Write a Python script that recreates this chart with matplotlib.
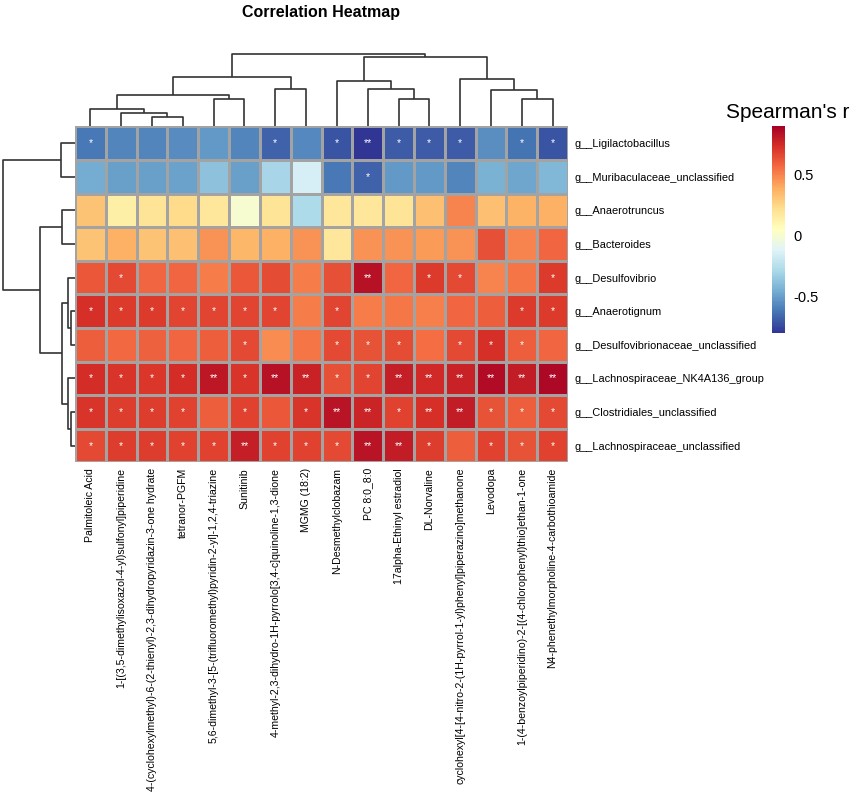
import numpy as np
import matplotlib
matplotlib.use("Agg")
import matplotlib.pyplot as plt

plt.rcParams['font.family'] = ['Liberation Sans', 'DejaVu Sans']

# metabolites (columns) in dendrogram order
metabolites = [
    "Palmitoleic Acid",
    "1-[(3,5-dimethylisoxazol-4-yl)sulfonyl]piperidine",
    "4-(cyclohexylmethyl)-6-(2-thienyl)-2,3-dihydropyridazin-3-one hydrate",
    "tetranor-PGFM",
    "5,6-dimethyl-3-[5-(trifluoromethyl)pyridin-2-yl]-1,2,4-triazine",
    "Sunitinib",
    "4-methyl-2,3-dihydro-1H-pyrrolo[3,4-c]quinoline-1,3-dione",
    "MGMG (18:2)",
    "N-Desmethylclobazam",
    "PC 8:0_8:0",
    "17alpha-Ethinyl estradiol",
    "DL-Norvaline",
    "cyclohexyl[4-[4-nitro-2-(1H-pyrrol-1-yl)phenyl]piperazino]methanone",
    "Levodopa",
    "1-(4-benzoylpiperidino)-2-[(4-chlorophenyl)thio]ethan-1-one",
    "N4-phenethylmorpholine-4-carbothioamide",
]

# genera (rows) in dendrogram order
genera = [
    "g__Ligilactobacillus",
    "g__Muribaculaceae_unclassified",
    "g__Anaerotruncus",
    "g__Bacteroides",
    "g__Desulfovibrio",
    "g__Anaerotignum",
    "g__Desulfovibrionaceae_unclassified",
    "g__Lachnospiraceae_NK4A136_group",
    "g__Clostridiales_unclassified",
    "g__Lachnospiraceae_unclassified",
]

# Spearman's r, one list per genus
r_ligilactobacillus = [-0.62, -0.58, -0.58, -0.56, -0.52, -0.58, -0.68, -0.57, -0.72, -0.80, -0.70, -0.70, -0.70, -0.55, -0.63, -0.72]
r_muribaculaceae = [-0.46, -0.50, -0.50, -0.49, -0.38, -0.50, -0.30, -0.15, -0.62, -0.68, -0.52, -0.52, -0.58, -0.44, -0.48, -0.42]
r_anaerotruncus = [0.32, 0.14, 0.20, 0.23, 0.18, 0.00, 0.20, -0.28, 0.18, 0.18, 0.20, 0.33, 0.50, 0.33, 0.37, 0.38]
r_bacteroides = [0.32, 0.38, 0.32, 0.33, 0.46, 0.36, 0.38, 0.46, 0.18, 0.46, 0.46, 0.44, 0.46, 0.64, 0.50, 0.58]
r_desulfovibrio = [0.62, 0.66, 0.58, 0.58, 0.52, 0.62, 0.65, 0.52, 0.64, 0.84, 0.58, 0.70, 0.66, 0.50, 0.54, 0.70]
r_anaerotignum = [0.73, 0.70, 0.70, 0.67, 0.67, 0.67, 0.67, 0.52, 0.67, 0.52, 0.53, 0.51, 0.58, 0.60, 0.70, 0.70]
r_desulfovibrionaceae = [0.60, 0.57, 0.59, 0.58, 0.60, 0.66, 0.48, 0.54, 0.66, 0.63, 0.65, 0.56, 0.66, 0.73, 0.60, 0.58]
r_lachno_nk4a136 = [0.74, 0.72, 0.71, 0.74, 0.82, 0.72, 0.84, 0.78, 0.64, 0.67, 0.79, 0.75, 0.78, 0.86, 0.80, 0.87]
r_clostridiales = [0.72, 0.69, 0.69, 0.68, 0.60, 0.68, 0.62, 0.72, 0.83, 0.77, 0.68, 0.73, 0.80, 0.63, 0.60, 0.66]
r_lachno_uncl = [0.66, 0.69, 0.69, 0.68, 0.68, 0.79, 0.68, 0.68, 0.66, 0.83, 0.80, 0.69, 0.60, 0.68, 0.63, 0.68]

# significance marks
sig_ligilactobacillus = ["*", "", "", "", "", "", "*", "", "*", "**", "*", "*", "*", "", "*", "*"]
sig_muribaculaceae = ["", "", "", "", "", "", "", "", "", "*", "", "", "", "", "", ""]
sig_anaerotruncus = [""] * 16
sig_bacteroides = [""] * 16
sig_desulfovibrio = ["", "*", "", "", "", "", "", "", "", "**", "", "*", "*", "", "", "*"]
sig_anaerotignum = ["*", "*", "*", "*", "*", "*", "*", "", "*", "", "", "", "", "", "*", "*"]
sig_desulfovibrionaceae = ["", "", "", "", "", "*", "", "", "*", "*", "*", "", "*", "*", "*", ""]
sig_lachno_nk4a136 = ["*", "*", "*", "*", "**", "*", "**", "**", "*", "*", "**", "**", "**", "**", "**", "**"]
sig_clostridiales = ["*", "*", "*", "*", "", "*", "", "*", "**", "**", "*", "**", "**", "*", "*", "*"]
sig_lachno_uncl = ["*", "*", "*", "*", "*", "**", "*", "*", "*", "**", "**", "*", "", "*", "*", "*"]

# dendrogram merges: (child a, child b, height); ids >= n are earlier merges
col_merges = [(2, 3, 9.7), (1, 16, 13.7), (0, 17, 17.3), (4, 5, 27.0), (18, 19, 31.7),
              (6, 7, 36.7), (20, 21, 49.0), (10, 11, 27.7), (9, 23, 37.3), (8, 24, 45.0),
              (14, 15, 27.7), (13, 26, 36.0), (12, 27, 46.7), (25, 28, 68.7), (22, 29, 72.0)]
row_merges = [(0, 1, 14.0), (2, 3, 12.7), (5, 6, 4.0), (4, 12, 7.0), (8, 9, 4.0),
              (7, 14, 7.0), (13, 15, 13.3), (11, 16, 35.0), (10, 17, 72.0)]

vals = np.array([r_ligilactobacillus, r_muribaculaceae, r_anaerotruncus, r_bacteroides,
                 r_desulfovibrio, r_anaerotignum, r_desulfovibrionaceae, r_lachno_nk4a136,
                 r_clostridiales, r_lachno_uncl])
sigs = [sig_ligilactobacillus, sig_muribaculaceae, sig_anaerotruncus, sig_bacteroides,
        sig_desulfovibrio, sig_anaerotignum, sig_desulfovibrionaceae, sig_lachno_nk4a136,
        sig_clostridiales, sig_lachno_uncl]

W, H = 858, 805
fig = plt.figure(figsize=(W / 100, H / 100), dpi=100)


def box(x0, y0, x1, y1):
    # pixel box -> figure fraction rect
    return [x0 / W, 1 - y1 / H, (x1 - x0) / W, (y1 - y0) / H]


hm_left, hm_right, hm_top, hm_bot = 75, 568, 126.4, 462.4
ax = fig.add_axes(box(hm_left, hm_top, hm_right, hm_bot))
mesh = ax.pcolormesh(vals, cmap='RdYlBu_r', vmin=-0.8, vmax=0.9,
                     edgecolors='#a3a3a3', linewidth=1.0)
ax.set_xlim(0, len(metabolites))
ax.set_ylim(len(genera), 0)
for i in range(len(genera)):
    for j in range(len(metabolites)):
        if sigs[i][j]:
            ax.text(j + 0.5, i + 0.5, sigs[i][j], ha='center', va='center',
                    color='white', fontsize=7.5)
ax.set_xticks(np.arange(len(metabolites)) + 0.5)
ax.set_xticklabels(metabolites, rotation=90, fontsize=7.55)
ax.set_yticks(np.arange(len(genera)) + 0.5)
ax.set_yticklabels(genera, fontsize=7.9)
ax.yaxis.tick_right()
ax.tick_params(axis='y', length=0, pad=5)
ax.tick_params(axis='x', length=0, pad=4)
for s in ax.spines.values():
    s.set_visible(False)


def draw_tree(axd, merges, n, horizontal):
    pos = {i: i + 0.5 for i in range(n)}
    hgt = {i: 0.0 for i in range(n)}
    for k, (a, b, h) in enumerate(merges):
        xs = [pos[a], pos[a], pos[b], pos[b]]
        ys = [hgt[a], h, h, hgt[b]]
        if horizontal:
            axd.plot(xs, ys, color='#333333', lw=1.2, clip_on=False, solid_capstyle='butt')
        else:
            axd.plot(ys, xs, color='#333333', lw=1.2, clip_on=False, solid_capstyle='butt')
        pos[n + k] = (pos[a] + pos[b]) / 2
        hgt[n + k] = h


axc = fig.add_axes(box(hm_left, 54, hm_right, hm_top))
draw_tree(axc, col_merges, len(metabolites), True)
axc.set_xlim(0, len(metabolites))
axc.set_ylim(0, 72)
axc.axis('off')

axr = fig.add_axes(box(3, hm_top, hm_left, hm_bot))
draw_tree(axr, row_merges, len(genera), False)
axr.set_ylim(len(genera), 0)
axr.set_xlim(72, 0)
axr.axis('off')

cax = fig.add_axes(box(772, 126, 785, 333))
cb = fig.colorbar(mesh, cax=cax, ticks=[-0.5, 0, 0.5])
cb.ax.set_yticklabels(['-0.5', '0', '0.5'])
cb.outline.set_visible(False)
cb.ax.tick_params(length=0, labelsize=10.5, pad=6)
fig.text(788 / W, 1 - 113 / H, "Spearman's r", ha='center', va='center', fontsize=15)

fig.text(321 / W, 1 - 12 / H, "Correlation Heatmap", ha='center', va='center',
         fontsize=11.5, fontweight='bold')

fig.savefig('out.png', dpi=100)
